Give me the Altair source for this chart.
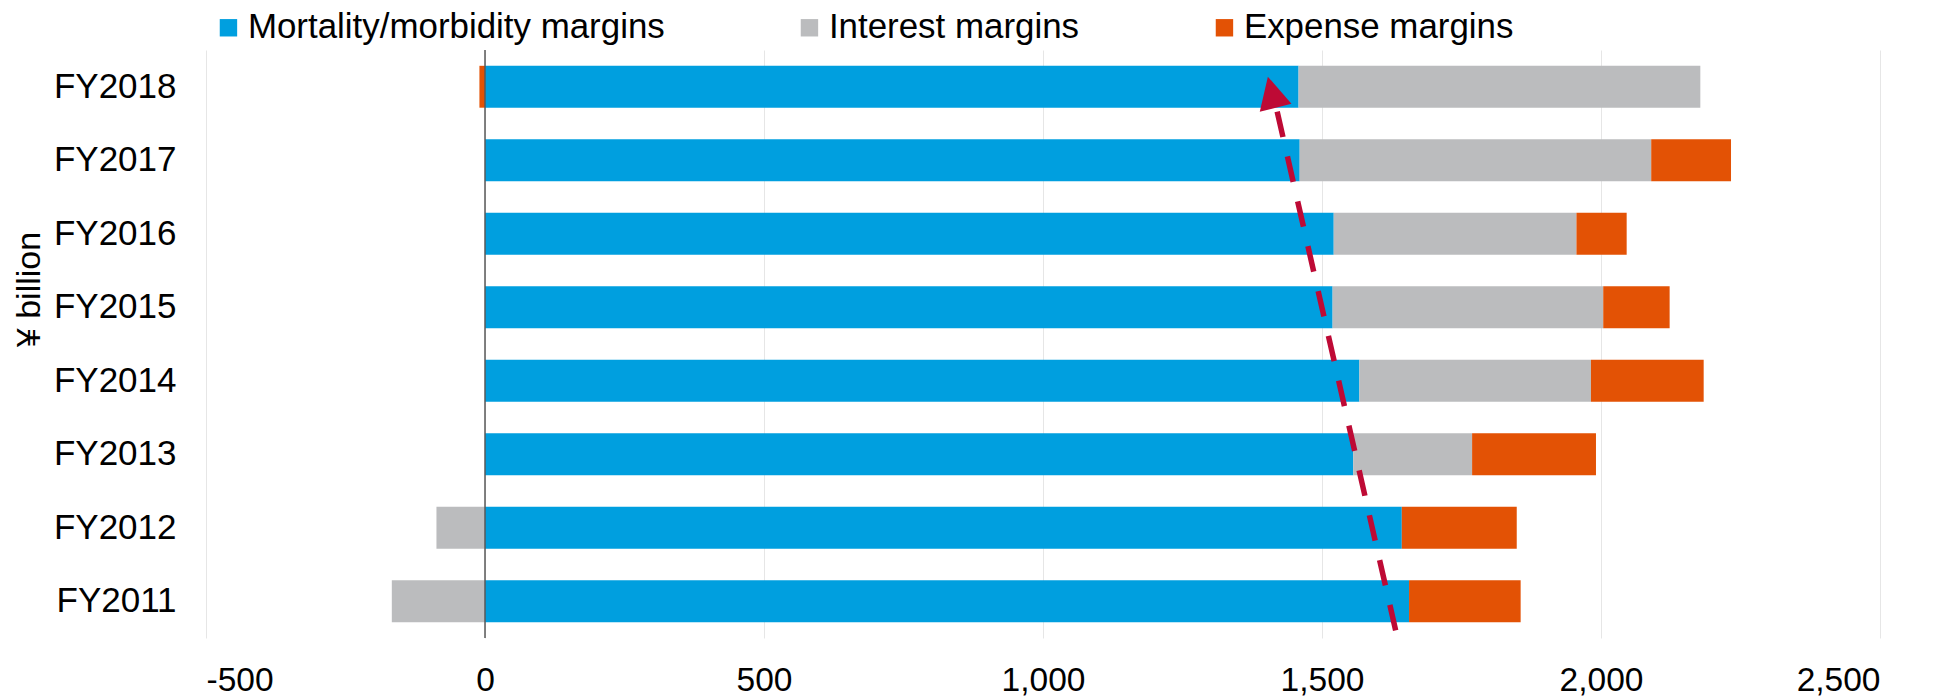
import altair as alt
import pandas as pd

years = ["FY2018", "FY2017", "FY2016", "FY2015", "FY2014", "FY2013", "FY2012", "FY2011"]
mortality = [1458, 1460, 1521, 1519, 1567, 1556, 1643, 1656]
interest = [720, 630, 435, 485, 415, 213, -87, -167]
expense = [-10, 143, 90, 119, 202, 222, 206, 200]
series = ["Mortality/morbidity margins", "Interest margins", "Expense margins"]
colors = ["#009FDF", "#BBBCBE", "#E35205"]
x_ticks = [-500, 0, 500, 1000, 1500, 2000, 2500]

# trend arrow (x in ¥ billion, y in category-band units counted from the bottom)
arrow_x = [1632, 1418]
arrow_y = [0.105, 7.217]
head_x = [1403]
head_y = [7.637]

rows = []
for i, y in enumerate(years):
    for k, (s, vals) in enumerate(zip(series, [mortality, interest, expense])):
        rows.append({"year": y, "series": s, "value": vals[i], "ord": k})
df = pd.DataFrame(rows)

arrow_df = pd.DataFrame({"ax": arrow_x, "ay": arrow_y, "seq": [0, 1]})
head_df = pd.DataFrame({"ax": head_x, "ay": head_y})

xscale = alt.Scale(domain=[-500, 2500], nice=False, zero=False)

bars = alt.Chart(df).mark_bar().encode(
    y=alt.Y("year:N", sort=years,
            scale=alt.Scale(paddingInner=0.43, paddingOuter=0.215),
            axis=alt.Axis(title="¥ billion", titleFontSize=34, titleFontWeight="normal",
                          titleAngle=270, titleX=-167, titleY=239, titleAlign="center",
                          titleBaseline="alphabetic", titleColor="#000000",
                          labelFontSize=35, labelColor="#000000", labelPadding=30,
                          ticks=False, tickSize=0, domain=False, grid=False)),
    x=alt.X("value:Q", scale=xscale, stack="zero",
            axis=alt.Axis(values=x_ticks, title=None, labelFontSize=33.5,
                          labelExpr="datum.value < 0 ? '-' + format(-datum.value, ',d') : format(datum.value, ',d')",
                          labelColor="#000000", labelPadding=26, ticks=False, tickSize=0,
                          domain=False, grid=True, gridColor="#E6E6E6", gridWidth=1)),
    color=alt.Color("series:N", scale=alt.Scale(domain=series, range=colors),
                    legend=alt.Legend(title=None, orient="none", legendX=5, legendY=-40,
                                      direction="horizontal", columns=3,
                                      symbolType="square", symbolSize=303,
                                      symbolStrokeWidth=0, labelFontSize=34.9,
                                      labelColor="#000000", labelOffset=2, labelLimit=0,
                                      columnPadding=127, padding=0)),
    order=alt.Order("ord:Q"),
)

zero = alt.Chart(pd.DataFrame({"z": [0]})).mark_rule(color="#595959", strokeWidth=1.5).encode(
    x=alt.X("z:Q", scale=xscale)
)

ayscale = alt.Scale(domain=[0, 8], nice=False, zero=False)

line = alt.Chart(arrow_df).mark_line(color="#BE0A35", strokeWidth=5.5, strokeDash=[26, 20],
                                     strokeCap="butt").encode(
    x=alt.X("ax:Q", scale=xscale),
    y=alt.Y("ay:Q", scale=ayscale, axis=None),
    order=alt.Order("seq:Q"),
)

head = alt.Chart(head_df).mark_point(shape="M0,0L-0.51,1L0.51,1Z", filled=True, size=4096,
                                     angle=346, color="#BE0A35", opacity=1, strokeWidth=0).encode(
    x=alt.X("ax:Q", scale=xscale),
    y=alt.Y("ay:Q", scale=ayscale, axis=None),
)

chart = alt.layer(bars, zero, line, head).resolve_scale(y="independent").properties(
    width=1674, height=588,
    autosize=alt.AutoSizeParams(type="none"),
    padding={"left": 206, "top": 50, "right": 66, "bottom": 61},
).configure(font="Liberation Sans").configure_view(strokeWidth=0)

chart.save("out.html", embed_options={"renderer": "svg", "actions": False})
